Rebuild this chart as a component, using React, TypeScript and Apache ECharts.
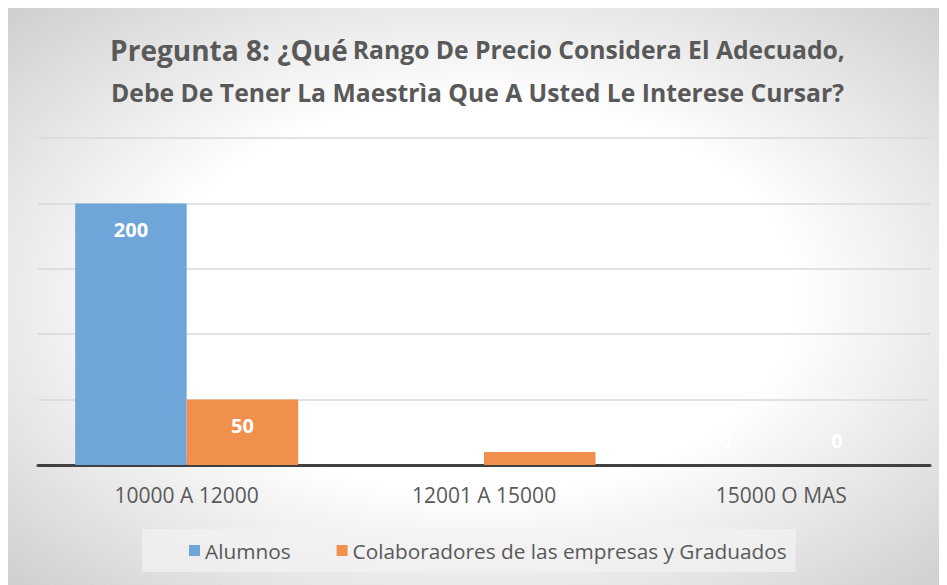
import React, { useEffect, useRef } from "react";
import * as echarts from "echarts";

const categories = ["10000 A 12000", "12001 A 15000", "15000 O MAS"];
const alumnos = [200, 0, 0];
const colaboradores = [50, 10, 0];
const showLabel = [true, false, true];
const seriesNames = ["Alumnos", "Colaboradores de las empresas y Graduados"];

function buildData(values: number[]) {
  return values.map((v, i) => ({
    value: v,
    label: {
      show: showLabel[i],
      position: v > 0 ? "insideTop" : "top",
      distance: v > 0 ? 16 : 15,
    },
  }));
}

export default function App() {
  const ref = useRef<HTMLDivElement>(null);
  useEffect(() => {
    if (!ref.current) return;
    const chart = echarts.init(ref.current, undefined, { renderer: "svg" });
    const labelStyle = {
      color: "#ffffff",
      fontFamily: "Open Sans",
      fontWeight: "bold" as const,
      fontSize: 20,
    };
    chart.setOption({
      animation: false,
      backgroundColor: {
        type: "radial",
        x: 0.5,
        y: 0.5,
        r: 0.75,
        colorStops: [
          { offset: 0, color: "#ffffff" },
          { offset: 0.45, color: "#ffffff" },
          { offset: 1, color: "#c9c9c9" },
        ],
      },
      title: {
        left: "center",
        top: 15,
        padding: [5, 5, 5, 48],
        text: "{a|Pregunta 8: ¿Qué} {b|Rango De Precio Considera El Adecuado,}\n{b|Debe De Tener La Maestrìa Que A Usted Le Interese Cursar?}",
        textStyle: {
          rich: {
            a: { fontFamily: "Open Sans", fontWeight: "bold", fontSize: 28, color: "#595959", lineHeight: 43 },
            b: { fontFamily: "Open Sans", fontWeight: "bold", fontSize: 24.7, color: "#595959", lineHeight: 43 },
          },
        },
      },
      legend: {
        bottom: 14,
        left: 134,
        itemWidth: 11,
        itemHeight: 11,
        itemGap: 46,
        padding: [11, 9, 11, 47],
        backgroundColor: "rgba(242,242,242,0.7)",
        textStyle: { fontFamily: "Open Sans", fontSize: 20.8, color: "#595959" },
        icon: "rect",
        data: seriesNames,
      },
      grid: { left: 30, right: 17, top: 130, bottom: 121 },
      xAxis: {
        type: "category",
        data: categories,
        axisLine: { lineStyle: { color: "#404040", width: 3 } },
        axisTick: { show: false },
        axisLabel: { fontFamily: "Open Sans", fontSize: 21, color: "#595959", margin: 19 },
      },
      yAxis: {
        type: "value",
        min: 0,
        max: 250,
        interval: 50,
        axisLabel: { show: false },
        axisLine: { show: false },
        axisTick: { show: false },
        splitLine: { lineStyle: { color: "#d9d9d9", width: 1.5 } },
      },
      series: [
        {
          name: seriesNames[0],
          type: "bar",
          data: buildData(alumnos),
          barGap: "0%",
          barCategoryGap: "25%",
          itemStyle: { color: "#6fa6da" },
          label: labelStyle,
        },
        {
          name: seriesNames[1],
          type: "bar",
          data: buildData(colaboradores),
          barGap: "0%",
          barCategoryGap: "25%",
          itemStyle: { color: "#f0904c" },
          label: labelStyle,
        },
      ],
    });
    return () => chart.dispose();
  }, []);
  return <div ref={ref} style={{ width: 939, height: 578 }} />;
}
